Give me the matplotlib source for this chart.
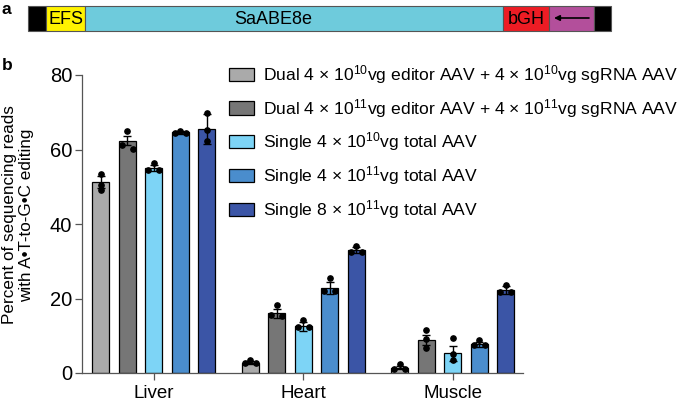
import numpy as np
import matplotlib
matplotlib.use("Agg")
import matplotlib.pyplot as plt
from matplotlib.patches import Rectangle

plt.rcParams['font.family'] = ['Liberation Sans', 'DejaVu Sans']
plt.rcParams['mathtext.fontset'] = 'custom'
plt.rcParams['mathtext.rm'] = 'Liberation Sans'
plt.rcParams['mathtext.it'] = 'Liberation Sans:italic'

# --- dati ---
tissues = ['Liver', 'Heart', 'Muscle']
series_labels = [
    'Dual 4 × 10$^{10}$vg editor AAV + 4 × 10$^{10}$vg sgRNA AAV',
    'Dual 4 × 10$^{11}$vg editor AAV + 4 × 10$^{11}$vg sgRNA AAV',
    'Single 4 × 10$^{10}$vg total AAV',
    'Single 4 × 10$^{11}$vg total AAV',
    'Single 8 × 10$^{11}$vg total AAV',
]
series_colors = ['#aaaaaa', '#767676', '#7dd4f6', '#4a8dcd', '#3b55a6']

means_dual_lo = [51.2, 2.8, 1.4]
means_dual_hi = [62.4, 16.0, 8.9]
means_single_lo = [55.1, 12.6, 5.3]
means_single_hi = [64.6, 22.8, 7.7]
means_single_8 = [65.5, 33.1, 22.3]

err_dual_lo = [1.6, 0.4, 0.4]
err_dual_hi = [1.3, 1.2, 1.3]
err_single_lo = [0.8, 1.2, 2.0]
err_single_hi = [0.4, 1.5, 0.7]
err_single_8 = [3.9, 0.8, 1.0]

reps_dual_lo = [[53.5, 50.5, 49.0], [3.5, 2.6, 2.6], [2.3, 1.0, 1.0]]
reps_dual_hi = [[65.1, 61.3, 60.1], [18.3, 15.6, 15.3], [11.6, 9.1, 6.6]]
reps_single_lo = [[56.4, 54.5, 54.5], [14.2, 12.3, 12.3], [9.3, 5.1, 3.5]]
reps_single_hi = [[65.1, 64.4, 64.3], [25.4, 22.0, 22.0], [8.9, 7.6, 7.6]]
reps_single_8 = [[69.8, 65.3, 62.4], [34.2, 32.5, 32.5], [23.7, 21.7, 21.7]]

means = [means_dual_lo, means_dual_hi, means_single_lo, means_single_hi, means_single_8]
errs = [err_dual_lo, err_dual_hi, err_single_lo, err_single_hi, err_single_8]
reps = [reps_dual_lo, reps_dual_hi, reps_single_lo, reps_single_hi, reps_single_8]

# schema costrutto (pannello a)
construct_names = ['', 'EFS', 'SaABE8e', 'bGH', '', '']
construct_colors = ['black', '#fff200', '#6ecbdc', '#ed1c24', '#b34f9b', 'black']
construct_lengths = [18, 39, 418, 46, 45, 17]

fig = plt.figure(figsize=(6.87, 4.01), dpi=100)

# --- pannello a: coordinate in pixel ---
ax_a = fig.add_axes([0, 0, 1, 1])
ax_a.set_xlim(0, 687)
ax_a.set_ylim(401, 0)
ax_a.axis('off')
x_start = 28
x0 = x_start
for name, col, ln in zip(construct_names, construct_colors, construct_lengths):
    ax_a.add_patch(Rectangle((x0, 6), ln, 25, facecolor=col, edgecolor='#555555', lw=0.8))
    if name == 'SaABE8e':
        ax_a.text(x0 + ln * 0.45, 19, name, ha='center', va='center', fontsize=13)
    elif name:
        ax_a.text(x0 + ln / 2, 19, name, ha='center', va='center', fontsize=13)
    x0 += ln
arrow_start = x_start + sum(construct_lengths[:4])
ax_a.annotate('', xy=(arrow_start + 5, 18), xytext=(arrow_start + 40, 18),
              arrowprops=dict(arrowstyle='-|>', color='black', lw=1.2, mutation_scale=8,
                              shrinkA=0, shrinkB=0))
ax_a.text(2, 9, 'a', fontsize=12.5, fontweight='bold', va='center')
ax_a.text(2, 66, 'b', fontsize=12.5, fontweight='bold', va='center')

# --- pannello b ---
ax = fig.add_axes([82 / 687, 28 / 401, 441 / 687, 298 / 401])
x = np.arange(len(tissues))
step = 0.177
width = 0.114
for i, (m, e, r, c, lab) in enumerate(zip(means, errs, reps, series_colors, series_labels)):
    pos = x + (i - 2) * step
    ax.bar(pos, m, width, color=c, edgecolor='black', linewidth=0.9, label=lab, zorder=2)
    ax.errorbar(pos, m, yerr=e, fmt='none', ecolor='black', elinewidth=1.0,
                capsize=3, capthick=1.0, zorder=3)
    for p, vals in zip(pos, r):
        close = abs(vals[1] - vals[2]) < 1.5
        offs = [0, -0.32 * width, 0.32 * width] if close else [0, 0, 0]
        ax.plot(p + np.array(offs), vals, 'o', color='black', ms=3.8, zorder=4)

ax.set_xlim(-0.48, 2.47)
ax.set_ylim(0, 80)
ax.set_yticks([0, 20, 40, 60, 80])
ax.set_xticks(x)
ax.set_xticklabels(tissues)
for s in ['top', 'right']:
    ax.spines[s].set_visible(False)
for s in ['left', 'bottom']:
    ax.spines[s].set_color('#555555')
    ax.spines[s].set_linewidth(0.9)
ax.tick_params(axis='both', colors='#555555', labelcolor='black', labelsize=14.5, length=5, width=0.9)
ax.tick_params(axis='y', pad=2)
ax.tick_params(axis='x', labelsize=13.5)

fig.text(18 / 687, 1 - 215 / 401, 'Percent of sequencing reads\nwith A•T-to-G•C editing',
         rotation=90, ha='center', va='center', fontsize=12.3, multialignment='center',
         linespacing=1.15)

ax.legend(loc='upper left', bbox_to_anchor=(229 / 687, 1 - 63 / 401), bbox_transform=fig.transFigure,
          frameon=False, fontsize=12.6, handlelength=1.45, handleheight=0.8,
          handletextpad=0.5, labelspacing=0.62, borderpad=0, borderaxespad=0)

fig.savefig('out.png', dpi=100)
